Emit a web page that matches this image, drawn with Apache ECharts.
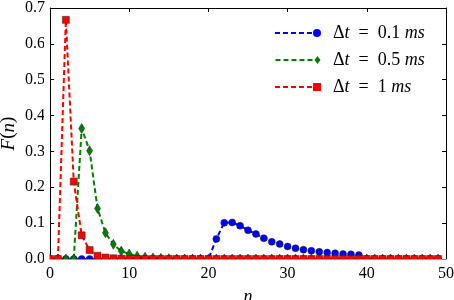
<!DOCTYPE html>
<html>
<head>
<meta charset="utf-8">
<script src="https://cdn.jsdelivr.net/npm/echarts@6/dist/echarts.min.js"></script>
<style>
  html, body { margin: 0; padding: 0; background: #fff; }
  #main { width: 454px; height: 300px; }
</style>
</head>
<body>
<div id="main"></div>
<script>
var nValues = [0,1,2,3,4,5,6,7,8,9,10,11,12,13,14,15,16,17,18,19,20,21,22,23,24,
  25,26,27,28,29,30,31,32,33,34,35,36,37,38,39,40,41,42,43,44,45,46,47,48,49];
var blueVals = [0,0,0,0,0,0,0,0,0,0,0,0,0,0,0,0,0,0,0,0,0,
  0.056,0.101,0.102,0.093,0.080,0.070,0.058,0.048,0.042,0.035,0.030,0.026,0.023,0.020,
  0.018,0.016,0.014,0.013,0.011,0,0,0,0,0,0,0,0,0,0];
var greenVals = [0,0,0,0,0.364,0.302,0.141,0.073,0.041,0.022,0.014,0.008,0.005,0.003,0.002,0.001,
  0,0,0,0,0,0,0,0,0,0,0,0,0,0,0,0,0,0,0,0,0,0,0,0,0,0,0,0,0,0,0,0,0,0];
var redVals = [0,0,0.667,0.216,0.066,0.025,0.009,0.004,0.002,0.001,
  0,0,0,0,0,0,0,0,0,0,0,0,0,0,0,0,0,0,0,0,0,0,0,0,0,0,0,0,0,0,0,0,0,0,0,0,0,0,0,0];
var seriesNames = ['0.1', '0.5', '1'];

function pairs(vals) {
  return nValues.map(function (n, i) { return [n, vals[i]]; });
}

var serif = 'Liberation Serif';
var chart = echarts.init(document.getElementById('main'));

// legend icons: dashed line with the marker at its right end (matplotlib style)
var dashes = 'M0,4h5v2h-5z M8,4h5v2h-5z M16,4h5v2h-5z M24,4h5v2h-5z M32,4h5v2h-5z ';
var iconCircle = 'path://' + dashes + 'M46,5 A4,4 0 1,1 38,5 A4,4 0 1,1 46,5 Z';
var iconDiamond = 'path://' + dashes + 'M42,1 L45,5 L42,9 L39,5 Z';
var iconSquare = 'path://' + dashes + 'M38,1 h8 v8 h-8 Z';

function mkSeries(name, vals, color, symbol, size) {
  return {
    name: name, type: 'line', data: pairs(vals),
    symbol: symbol, symbolSize: size, showAllSymbol: true,
    lineStyle: { color: color, width: 2, type: [5, 3] },
    itemStyle: { color: color, borderColor: '#222', borderWidth: 0.5 },
    emphasis: { disabled: true },
    animation: false
  };
}

var tickStyle = { inside: true, length: 4, lineStyle: { color: '#000', width: 1 } };
var axisLbl = { fontFamily: serif, fontSize: 16, color: '#000' };

chart.setOption({
  backgroundColor: '#fff',
  animation: false,
  grid: { left: 50, right: 8, top: 8, bottom: 41, outerBoundsMode: 'none' },
  legend: {
    left: 270, top: 19, orient: 'vertical', itemGap: 9,
    itemWidth: 46, itemHeight: 8,
    itemStyle: { borderWidth: 0 },
    textStyle: {
      fontFamily: serif, fontSize: 18, color: '#000', padding: [0, 0, 0, 7],
      rich: { i: { fontFamily: serif, fontStyle: 'italic', fontSize: 18 } }
    },
    formatter: function (name) {
      return '\u0394{i|t}  =  ' + name + ' {i|ms}';
    },
    data: [
      { name: seriesNames[0], icon: iconCircle },
      { name: seriesNames[1], icon: iconDiamond },
      { name: seriesNames[2], icon: iconSquare }
    ]
  },
  xAxis: [{
    type: 'value', min: 0, max: 50, interval: 10,
    name: 'n', nameLocation: 'middle', nameGap: 29, nameMoveOverlap: false,
    nameTextStyle: { fontFamily: serif, fontStyle: 'italic', fontSize: 18, color: '#000' },
    axisLine: { lineStyle: { color: '#000', width: 1 } },
    axisTick: tickStyle, splitLine: { show: false },
    axisLabel: Object.assign({ margin: 7 }, axisLbl)
  }, {
    type: 'value', min: 0, max: 50, interval: 10, position: 'top',
    axisLine: { show: true, onZero: false, lineStyle: { color: '#000', width: 1 } },
    axisTick: tickStyle, axisLabel: { show: false }, splitLine: { show: false }
  }],
  yAxis: [{
    type: 'value', min: 0, max: 0.7, interval: 0.1,
    name: '{i|F}(' + '{i|n})', nameLocation: 'middle', nameGap: 32, nameRotate: 90,
    nameMoveOverlap: false,
    nameTextStyle: {
      fontFamily: serif, fontSize: 19, color: '#000',
      rich: { i: { fontFamily: serif, fontStyle: 'italic', fontSize: 19 } }
    },
    axisLine: { show: true, lineStyle: { color: '#000', width: 1 } },
    axisTick: tickStyle, splitLine: { show: false },
    axisLabel: Object.assign({ margin: 5, formatter: function (v) { return v.toFixed(1); } }, axisLbl)
  }, {
    type: 'value', min: 0, max: 0.7, interval: 0.1, position: 'right',
    axisLine: { show: true, onZero: false, lineStyle: { color: '#000', width: 1 } },
    axisTick: tickStyle, axisLabel: { show: false }, splitLine: { show: false }
  }],
  series: [
    mkSeries(seriesNames[0], blueVals, '#0000ff', 'circle', 7),
    mkSeries(seriesNames[1], greenVals, '#008000', 'diamond', [6, 10]),
    mkSeries(seriesNames[2], redVals, '#ff0000', 'rect', 7)
  ]
});

// markers are clipped at the axes frame, as in the original figure
var origin = chart.convertToPixel({ gridIndex: 0 }, [0, 0]);
var far = chart.convertToPixel({ gridIndex: 0 }, [50, 0.7]);
chart.setOption({
  graphic: [
    { type: 'rect', z: 100, silent: true,
      shape: { x: origin[0] - 6, y: origin[1] + 0.5, width: far[0] - origin[0] + 12, height: 6 },
      style: { fill: '#fff' } },
    { type: 'rect', z: 100, silent: true,
      shape: { x: origin[0] - 6, y: far[1], width: 5.5, height: origin[1] - far[1] + 6 },
      style: { fill: '#fff' } }
  ]
});
</script>
</body>
</html>
